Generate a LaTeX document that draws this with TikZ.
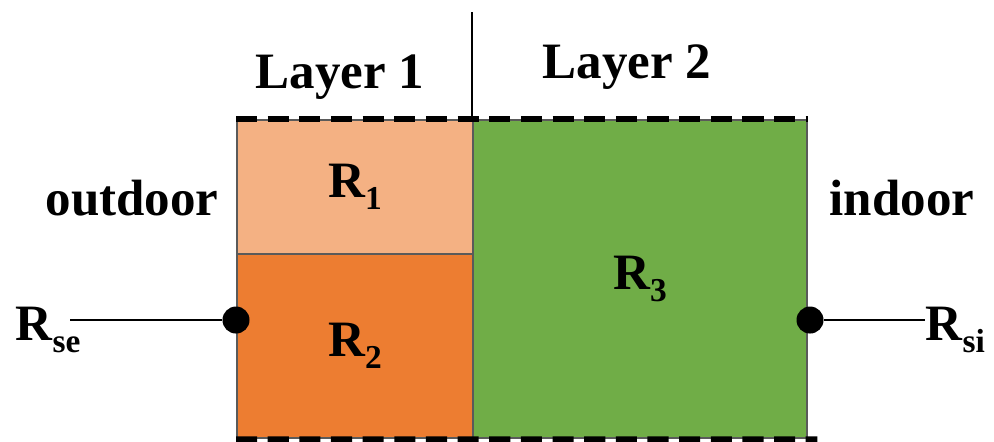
\documentclass[tikz,border=0pt]{standalone}
\usepackage{fontspec}
\setmainfont{Liberation Serif}
\usetikzlibrary{positioning}
\definecolor{Peach}{HTML}{F4B183}
\definecolor{Orange}{HTML}{ED7D31}
\definecolor{Leaf}{HTML}{70AD47}
\definecolor{Edge}{HTML}{5A5A5A}
\newcommand{\Rsub}[1]{R\raisebox{-3.5pt}{\fontsize{9.5}{10}\selectfont #1}}

\begin{document}
\begin{tikzpicture}[
  x=0.01cm, y=-0.01cm,
  font=\fontsize{14.5}{16}\selectfont\bfseries,
  layer/.style={rectangle, draw=Edge, line width=0.6pt, inner sep=0pt, anchor=north west},
  surface/.style={line width=1.7pt, dash pattern=on 6pt off 3pt},
  dot/.style={circle, fill=black, inner sep=0pt, minimum size=0.27cm},
  wire/.style={line width=0.7pt},
  word/.style={inner sep=0pt, anchor=base}
]
\useasboundingbox (0,0) rectangle (994,441);

% wall layers
\node[layer, fill=Peach, minimum width=2.36cm, minimum height=1.34cm] (r1) at (236,119) {\Rsub{1}};
\node[layer, fill=Orange, minimum width=2.36cm, minimum height=1.84cm] (r2) at (236,253) {\Rsub{2}};
\node[layer, fill=Leaf, minimum width=3.34cm, minimum height=3.18cm] (r3) at (472,119) {\Rsub{3}};

\draw[surface] (r1.north west) -- (r3.north east);
\draw[surface, shorten >=-0.09cm] (r2.south west) -- (r3.south east);

\coordinate (split) at (472,12);
\draw[wire] (split) -- (r3.north west);

% labels
\node[word] (lay1) at (340,88) {Layer 1};
\node[word] (lay2) at (627,78) {Layer 2};
\node[word] (outside) at (132,215) {outdoor};
\node[word] (inside) at (902,215) {indoor};

% surface resistances
\node[dot] (ldot) at (236,320) {};
\node[dot] (rdot) at (810,320) {};
\node[word, anchor=base west] (rse) at (15,340) {\Rsub{se}};
\node[word, anchor=base west] (rsi) at (925,340) {\Rsub{si}};
\coordinate (setip) at (70,320);
\draw[wire] (ldot) -- (setip);
\draw[wire] (rdot) -- (rdot -| rsi.west);
\end{tikzpicture}
\end{document}
